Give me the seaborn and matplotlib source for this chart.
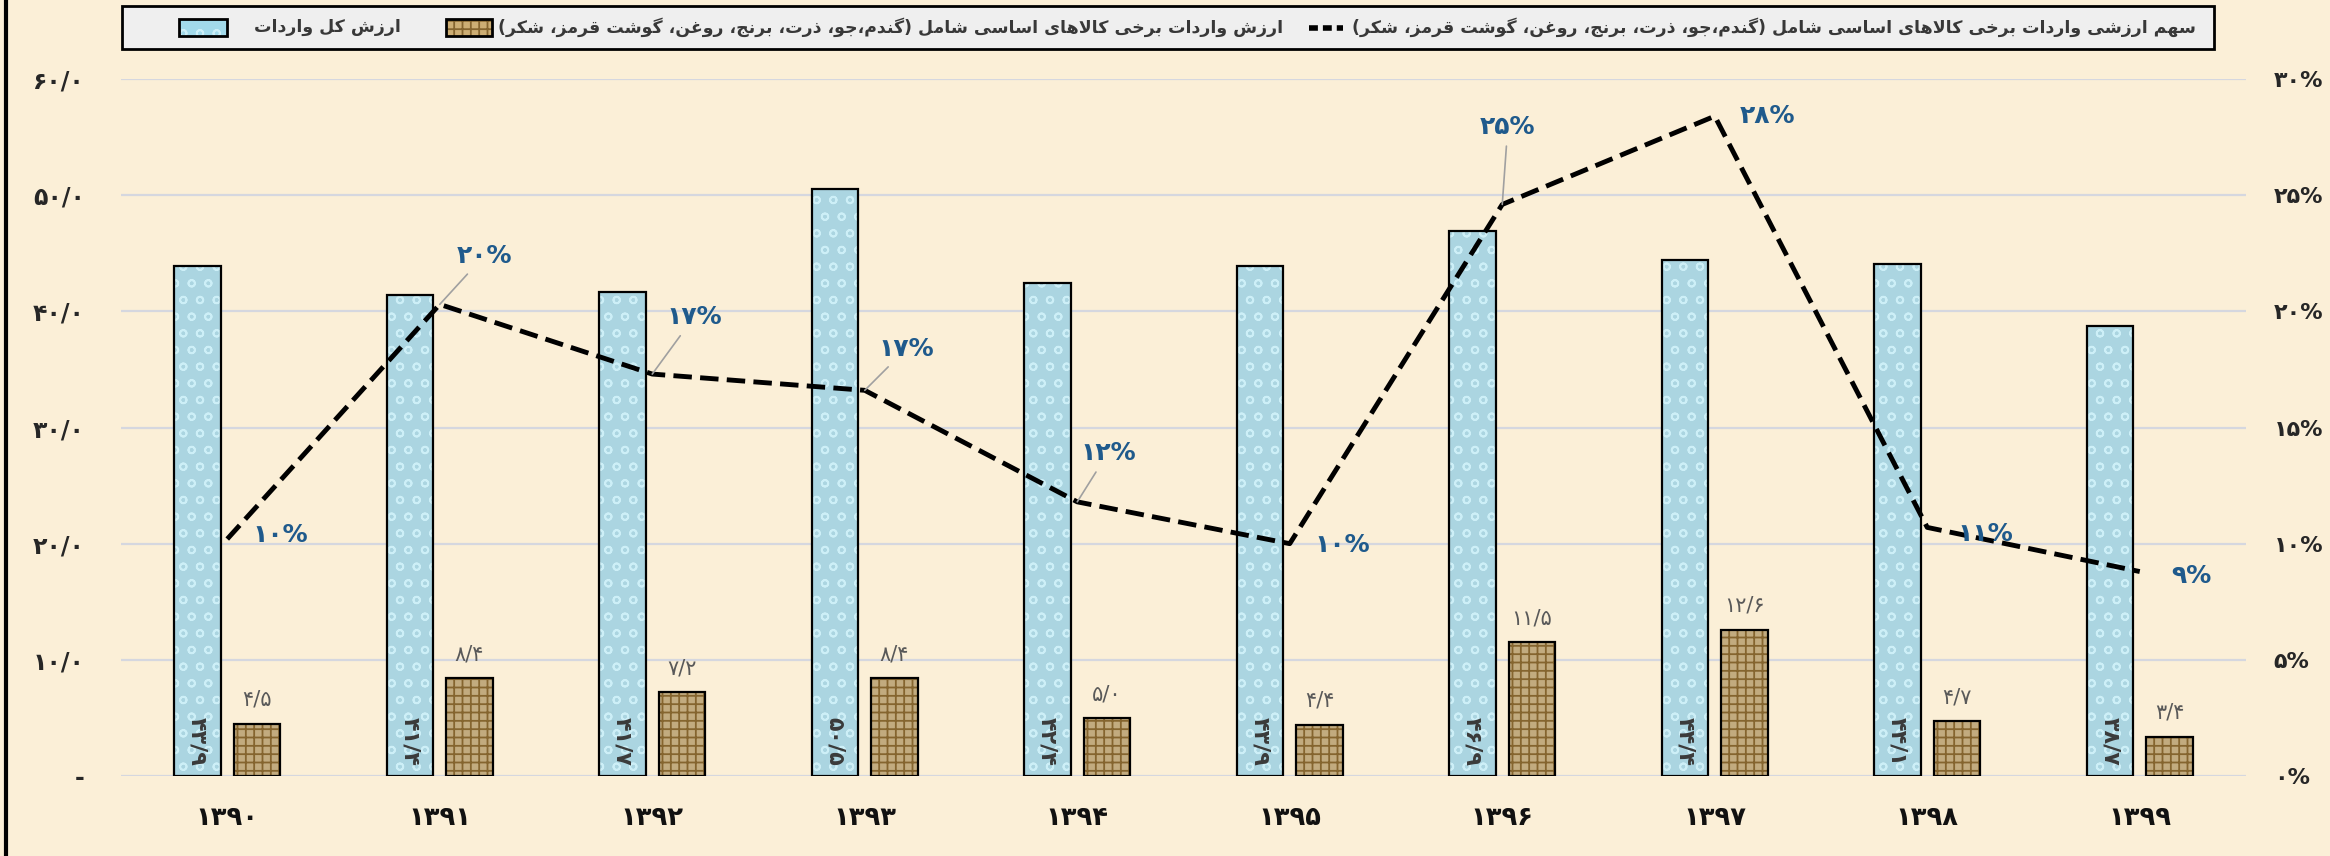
import numpy as np
import pandas as pd
import matplotlib.pyplot as plt
import seaborn as sns
from matplotlib.patches import Rectangle
from matplotlib.lines import Line2D

# %% data
years = ["۱۳۹۰", "۱۳۹۱", "۱۳۹۲", "۱۳۹۳", "۱۳۹۴", "۱۳۹۵", "۱۳۹۶", "۱۳۹۷", "۱۳۹۸", "۱۳۹۹"]
total_imports = [43.9, 41.4, 41.7, 50.5, 42.4, 43.9, 46.9, 44.4, 44.1, 38.7]
basic_goods = [4.5, 8.4, 7.2, 8.4, 5.0, 4.4, 11.5, 12.6, 4.7, 3.4]
share_pct = [10.2, 20.3, 17.3, 16.6, 11.8, 10.0, 24.6, 28.4, 10.7, 8.8]

name_total = "ارزش کل واردات"
name_basic = "ارزش واردات برخی کالاهای اساسی شامل (گندم،جو، ذرت، برنج، روغن، گوشت قرمز، شکر)"
name_share = "سهم ارزشی واردات برخی کالاهای اساسی شامل (گندم،جو، ذرت، برنج، روغن، گوشت قرمز، شکر)"

# label offsets (points) and which labels get a leader line
label_offsets = [(38, 3), (32, 35), (30, 41), (30, 30), (22, 35),
                 (38, -1), (4, 56), (38, 0), (42, -5), (37, -3)]
leaders = [False, True, True, True, True, False, True, False, False, False]

# %% helpers: persian digits and simple arabic-script shaping for matplotlib
FA = str.maketrans("0123456789", "۰۱۲۳۴۵۶۷۸۹")


def fa(s):
    return str(s).translate(FA)


def fa_dec(v):
    return fa(f"{v:.1f}").replace(".", "/")


FORMS = {
    "ا": (0xFE8D, False), "ب": (0xFE8F, True), "ت": (0xFE95, True),
    "ج": (0xFE9D, True), "خ": (0xFEA5, True), "د": (0xFEA9, False),
    "ذ": (0xFEAB, False), "ر": (0xFEAD, False), "ز": (0xFEAF, False),
    "س": (0xFEB1, True), "ش": (0xFEB5, True), "غ": (0xFECD, True),
    "ق": (0xFED5, True), "ل": (0xFEDD, True), "م": (0xFEE1, True),
    "ن": (0xFEE5, True), "ه": (0xFEE9, True), "و": (0xFEED, False),
    "ک": (0xFB8E, True), "گ": (0xFB92, True), "ی": (0xFBFC, True),
}


def rtl(s):
    out = []
    i = 0
    while i < len(s):
        c = s[i]
        if c not in FORMS:
            out.append(c)
            i += 1
            continue
        prev = s[i - 1] if i > 0 else ""
        link_prev = prev in FORMS and FORMS[prev][1]
        if c == "ل" and i + 1 < len(s) and s[i + 1] == "ا":
            out.append("\uFEFC" if link_prev else "\uFEFB")
            i += 2
            continue
        nxt = s[i + 1] if i + 1 < len(s) else ""
        link_next = FORMS[c][1] and nxt in FORMS
        base = FORMS[c][0]
        if link_prev and link_next:
            code = base + 3
        elif link_prev:
            code = base + 1
        elif link_next:
            code = base + 2
        else:
            code = base
        out.append(chr(code))
        i += 1
    mirror = {"(": ")", ")": "("}
    return "".join(mirror.get(c, c) for c in reversed(out))


# %% styling
bg = "#FBEFD7"
blue = "#A2DAEA"
blue_tex = "#CDEFF7"
brown = "#CDAE74"
brown_tex = "#85652F"
label_blue = "#1F5A8C"

sns.set_style("white")
plt.rcParams["font.family"] = ["DejaVu Sans"]
plt.rcParams["hatch.linewidth"] = 1.3

df = pd.DataFrame({
    "year": years * 2,
    "value": total_imports + basic_goods,
    "series": [name_total] * len(years) + [name_basic] * len(years),
})

W, H = 2330, 856
fig = plt.figure(figsize=(W / 100, H / 100), dpi=100, facecolor=bg)
ax = fig.add_axes([121 / W, 1 - 776 / H, (2246 - 121) / W, (776 - 79) / H])
ax.set_facecolor(bg)

# textured fills, then black outlines on top
sns.barplot(data=df, x="year", y="value", hue="series", palette=[blue, brown],
            width=0.56, gap=0.22, linewidth=0, legend=False, ax=ax, zorder=2)
sns.barplot(data=df, x="year", y="value", hue="series", palette=["black", "black"],
            width=0.56, gap=0.22, fill=False, linewidth=1.6, legend=False, ax=ax, zorder=3)
for p in ax.containers[0]:
    p.set_hatch("o")
    p.set_edgecolor(blue_tex)
for p in ax.containers[1]:
    p.set_hatch("++")
    p.set_edgecolor(brown_tex)

ax.set_ylim(0, 60)
ax.set_xlim(-0.5, len(years) - 0.5)
yt = list(range(0, 61, 10))
ax.set_yticks(yt)
ax.set_yticklabels(["-"] + [fa_dec(t) for t in yt[1:]],
                   fontsize=17, weight="bold", color="#262626")
ax.set_xticks(range(len(years)))
ax.set_xticklabels(years, fontsize=18.5, weight="bold", color="#111111")
ax.tick_params(axis="y", length=0, pad=26)
ax.tick_params(axis="x", length=0, pad=21)
ax.yaxis.grid(True, color="#D5D7DF", lw=1.6)
ax.set_axisbelow(True)
ax.set_xlabel("")
ax.set_ylabel("")
sns.despine(ax=ax, left=True, bottom=True)

# value labels
ax.bar_label(ax.containers[1], labels=[fa_dec(v) for v in basic_goods],
             padding=10, fontsize=15, color="#595959")
for p, v in zip(ax.containers[0], total_imports):
    ax.text(p.get_x() + p.get_width() / 2, 0.9, fa_dec(v),
            rotation=270, ha="center", va="bottom", fontsize=16, weight="bold",
            color="#3A3A3A", zorder=4)

# share line on the right axis
ax2 = ax.twinx()
sns.lineplot(x=years, y=share_pct, sort=False, color="black", lw=3.5, ax=ax2)
ax2.lines[0].set_dashes((3.8, 1.7))
ax2.set_ylim(0, 30)
rt = list(range(0, 31, 5))
ax2.set_yticks(rt)
ax2.set_yticklabels([fa(f"{t}%") for t in rt], fontsize=16, weight="bold", color="#262626")
ax2.tick_params(axis="y", length=0, pad=20)
ax2.set_xlabel("")
ax2.set_ylabel("")
sns.despine(ax=ax2, left=True, bottom=True, right=True)

for i, (v, off, lead) in enumerate(zip(share_pct, label_offsets, leaders)):
    ax2.annotate(fa(f"{round(v)}%"), xy=(i, v), xytext=off, textcoords="offset points",
                 ha="center", va="center", fontsize=18, weight="bold", color=label_blue,
                 arrowprops=dict(arrowstyle="-", color="#A0A0A0", lw=1.2,
                                 shrinkA=3, shrinkB=0) if lead else None)

# legend box (right-to-left layout, drawn by hand)


def fx(x):
    return x / W


def fy(y):
    return 1 - y / H


fig.add_artist(Rectangle((fx(122), fy(49)), fx(2214 - 122), (49 - 6) / H,
                         facecolor="#EFEFEF", edgecolor="black", lw=2))
for x0, x1, face, tex, hatch in [(179, 227, blue, blue_tex, "o"),
                                 (446, 492, brown, brown_tex, "++")]:
    fig.add_artist(Rectangle((fx(x0), fy(36)), fx(x1 - x0), 17 / H,
                             facecolor=face, edgecolor=tex, hatch=hatch, lw=0))
    fig.add_artist(Rectangle((fx(x0), fy(36)), fx(x1 - x0), 17 / H,
                             fill=False, edgecolor="black", lw=2))
fig.add_artist(Line2D([fx(1309), fx(1343)], [fy(27.5), fy(27.5)], color="black",
                      lw=4, dashes=(1.6, 0.9)))
for x0, txt in [(254, name_total), (498, name_basic), (1352, name_share)]:
    fig.text(fx(x0), fy(27.5), rtl(txt), ha="left", va="center", fontsize=12.5,
             weight="bold", color="#383838")

# left frame edge
fig.add_artist(Line2D([fx(6), fx(6)], [0, 1], color="black", lw=3))

fig.savefig("out.png", dpi=100, facecolor=bg)
